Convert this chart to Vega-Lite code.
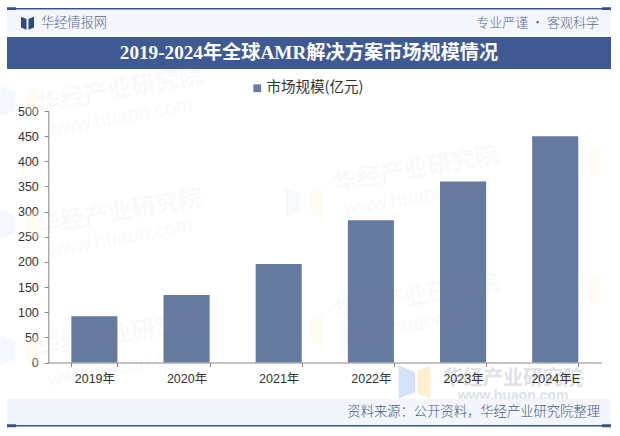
{
  "$schema": "https://vega.github.io/schema/vega-lite/v6.json",
  "description": "2019-2024 global AMR solutions market size",
  "padding": {"left": 0, "top": 7, "right": 0, "bottom": 0},
  "autosize": {"type": "pad"},
  "background": "#ffffff",
  "spacing": 0,
  "bounds": "flush",
  "datasets": {
    "market": [
      {"year": "2019年", "size": 92, "series": "市场规模(亿元)"},
      {"year": "2020年", "size": 134, "series": "市场规模(亿元)"},
      {"year": "2021年", "size": 196, "series": "市场规模(亿元)"},
      {"year": "2022年", "size": 283, "series": "市场规模(亿元)"},
      {"year": "2023年", "size": 360, "series": "市场规模(亿元)"},
      {"year": "2024年E", "size": 450, "series": "市场规模(亿元)"}
    ],
    "caps": [{"side": "left"}, {"side": "right"}],
    "header": [
      {"side": "left", "label": "华经情报网"},
      {"side": "right", "label": "专业严谨 • 客观科学"}
    ],
    "brandLeft": [
      {"year": "2019年", "level": 532, "label": "华经产业研究院"},
      {"year": "2019年", "level": 289, "label": "华经产业研究院"},
      {"year": "2019年", "level": 45, "label": "华经产业研究院"}
    ],
    "urlLeft": [
      {"year": "2019年", "level": 478, "label": "www.huaon.com"},
      {"year": "2019年", "level": 238, "label": "www.huaon.com"},
      {"year": "2019年", "level": -19, "label": "www.huaon.com"}
    ],
    "brandRight": [
      {"year": "2022年", "level": 367, "label": "华经产业研究院"},
      {"year": "2022年", "level": 114, "label": "华经产业研究院"}
    ],
    "urlRight": [
      {"year": "2022年", "level": 313, "label": "www.huaon.com"},
      {"year": "2022年", "level": 61, "label": "www.huaon.com"}
    ],
    "frontBrand": [{"year": "2023年", "level": -33, "label": "华经产业研究院"}],
    "frontUrl": [{"year": "2023年", "level": -67, "label": "www.huaon.com"}],
    "frontIcon": [{"year": "2022年", "level": -39}],
    "iconsMid": [
      {"year": "2021年", "level": 317},
      {"year": "2021年", "level": 65},
      {"year": "2024年E", "level": 397},
      {"year": "2024年E", "level": 145}
    ],
    "iconsEdge": [
      {"year": "2019年", "level": 520},
      {"year": "2019年", "level": 275},
      {"year": "2019年", "level": 25}
    ]
  },
  "config": {
    "view": {"stroke": null},
    "font": "Liberation Sans, Noto Sans CJK SC"
  },
  "vconcat": [
    {
      "width": 604,
      "height": 1.5,
      "view": {"fill": "#3a5185"},
      "data": {"name": "caps"},
      "mark": {"type": "tick", "orient": "horizontal", "color": "#3a5185", "thickness": 3, "size": 9, "opacity": 1},
      "encoding": {
        "x": {"field": "side", "type": "nominal", "axis": null, "scale": {"type": "point", "padding": 0, "domain": ["left", "right"], "range": [4.5, 599.5]}}
      }
    },
    {
      "width": 604,
      "height": 26.5,
      "view": {"fill": "#f4f6fb"},
      "data": {"name": "header"},
      "encoding": {
        "x": {"field": "side", "type": "nominal", "axis": null, "scale": {"type": "point", "padding": 0, "domain": ["left", "right"], "range": [20.5, 592]}}
      },
      "layer": [
        {
          "transform": [{"filter": "datum.side === 'left'"}],
          "mark": {"type": "point", "filled": true, "opacity": 1, "color": "#2f4a7f", "size": 169, "shape": "M-1,-1 L-0.15,-0.65 L-0.15,1 L-1,0.65 Z M1,-1 L0.15,-0.65 L0.15,1 L1,0.65 Z"}
        },
        {
          "transform": [{"filter": "datum.side === 'left'"}],
          "mark": {"type": "text", "fontSize": 13.2, "color": "#566a8c", "font": "Noto Sans CJK SC", "fontWeight": 300, "align": "left", "dx": 13.5},
          "encoding": {"text": {"field": "label"}}
        },
        {
          "transform": [{"filter": "datum.side === 'right'"}],
          "mark": {"type": "text", "fontSize": 13, "color": "#566a8c", "font": "Noto Sans CJK SC", "fontWeight": 300, "align": "right"},
          "encoding": {"text": {"field": "label"}}
        }
      ]
    },
    {
      "width": 604,
      "height": 32,
      "view": {"fill": "#3f5a92"},
      "data": {"values": [{"label": "2019-2024年全球AMR解决方案市场规模情况"}]},
      "mark": {"type": "text", "fontSize": 19.2, "fontWeight": "bold", "color": "#ffffff", "font": "Liberation Serif, Noto Sans CJK SC"},
      "encoding": {"text": {"field": "label"}}
    },
    {
      "width": 604,
      "height": 330,
      "data": {"name": "market"},
      "encoding": {
        "x": {
          "field": "year", "type": "nominal",
          "scale": {"domain": ["2019年", "2020年", "2021年", "2022年", "2023年", "2024年E"], "range": [41.3, 594.3], "paddingInner": 0.5, "paddingOuter": 0.25},
          "axis": {"title": null, "labelAngle": 0, "offset": -36.5, "tickBand": "extent", "tickSize": 4, "labelFontSize": 12.5, "labelColor": "#333333", "domainColor": "#868686", "tickColor": "#868686", "labelPadding": 6, "grid": false, "zindex": 1}
        },
        "y": {
          "field": "size", "type": "quantitative",
          "scale": {"domain": [0, 500], "range": [293.5, 42], "nice": false},
          "axis": {"title": null, "values": [0, 50, 100, 150, 200, 250, 300, 350, 400, 450, 500], "offset": -41.3, "tickSize": 4, "labelFontSize": 12.5, "labelColor": "#333333", "domainColor": "#868686", "tickColor": "#868686", "labelPadding": 6, "grid": false}
        }
      },
      "layer": [
        {
          "data": {"name": "iconsMid"},
          "mark": {"type": "point", "filled": true, "opacity": 0.25, "color": "#dbe6f7", "size": 900, "xOffset": 14, "shape": "M-0.5,-1 L0.5,-0.6 L0.5,0.6 L-0.5,1 Z"},
          "encoding": {"y": {"field": "level", "type": "quantitative"}}
        },
        {
          "data": {"name": "iconsMid"},
          "mark": {"type": "point", "filled": true, "opacity": 0.3, "color": "#fdf3d6", "size": 900, "xOffset": 38, "shape": "M-0.4,-0.7 L0.4,-1 L0.4,1 L-0.4,0.7 Z"},
          "encoding": {"y": {"field": "level", "type": "quantitative"}}
        },
        {
          "data": {"name": "iconsEdge"},
          "mark": {"type": "point", "filled": true, "opacity": 0.3, "color": "#dbe6f7", "size": 900, "xOffset": -86.5, "shape": "M-0.5,-1 L0.5,-0.6 L0.5,0.6 L-0.5,1 Z"},
          "encoding": {"y": {"field": "level", "type": "quantitative"}}
        },
        {
          "data": {"name": "iconsEdge"},
          "mark": {"type": "point", "filled": true, "opacity": 0.3, "color": "#fdf3d6", "size": 900, "xOffset": -62, "shape": "M-0.4,-0.7 L0.4,-1 L0.4,1 L-0.4,0.7 Z"},
          "encoding": {"y": {"field": "level", "type": "quantitative"}}
        },
        {
          "data": {"name": "frontIcon"},
          "mark": {"type": "point", "filled": true, "opacity": 1, "color": "#d5e3f8", "size": 1100, "xOffset": 36, "shape": "M-0.5,-1 L0.5,-0.6 L0.5,0.6 L-0.5,1 Z"},
          "encoding": {"y": {"field": "level", "type": "quantitative"}}
        },
        {
          "data": {"name": "frontIcon"},
          "mark": {"type": "point", "filled": true, "opacity": 1, "color": "#fcf0cd", "size": 1100, "xOffset": 53, "shape": "M-0.4,-0.7 L0.4,-1 L0.4,1 L-0.4,0.7 Z"},
          "encoding": {"y": {"field": "level", "type": "quantitative"}}
        },
        {
          "mark": {"type": "bar", "opacity": 1},
          "encoding": {
            "color": {
              "field": "series", "type": "nominal",
              "scale": {"range": ["#667a9f"]},
              "legend": {"title": null, "orient": "none", "legendX": 243, "legendY": 73, "symbolType": "square", "symbolSize": 60, "labelFontSize": 14.5, "labelOffset": 2, "labelColor": "#333333", "labelFont": "Noto Sans CJK SC", "symbolOpacity": 1}
            }
          }
        },
        {
          "data": {"name": "brandLeft"},
          "mark": {"type": "text", "fontSize": 24, "fontWeight": "bold", "angle": 350, "color": "#8f9bb0", "opacity": 0.05, "dx": 26, "font": "Noto Sans CJK SC"},
          "encoding": {"y": {"field": "level", "type": "quantitative"}, "text": {"field": "label"}}
        },
        {
          "data": {"name": "urlLeft"},
          "mark": {"type": "text", "fontSize": 20, "angle": 350, "color": "#8f9bb0", "opacity": 0.05, "dx": 26},
          "encoding": {"y": {"field": "level", "type": "quantitative"}, "text": {"field": "label"}}
        },
        {
          "data": {"name": "brandRight"},
          "mark": {"type": "text", "fontSize": 24, "fontWeight": "bold", "angle": 350, "color": "#8f9bb0", "opacity": 0.05, "dx": 46, "font": "Noto Sans CJK SC"},
          "encoding": {"y": {"field": "level", "type": "quantitative"}, "text": {"field": "label"}}
        },
        {
          "data": {"name": "urlRight"},
          "mark": {"type": "text", "fontSize": 20, "angle": 350, "color": "#8f9bb0", "opacity": 0.05, "dx": 46},
          "encoding": {"y": {"field": "level", "type": "quantitative"}, "text": {"field": "label"}}
        },
        {
          "data": {"name": "frontBrand"},
          "mark": {"type": "text", "fontSize": 20, "fontWeight": "bold", "color": "#c9ced6", "opacity": 0.6, "dx": 50, "font": "Noto Sans CJK SC"},
          "encoding": {"y": {"field": "level", "type": "quantitative"}, "text": {"field": "label"}}
        },
        {
          "data": {"name": "frontUrl"},
          "mark": {"type": "text", "fontSize": 14, "fontWeight": "bold", "letterSpacing": 2.5, "color": "#c9ced6", "opacity": 0.6, "dx": 50},
          "encoding": {"y": {"field": "level", "type": "quantitative"}, "text": {"field": "label"}}
        }
      ]
    },
    {
      "width": 604,
      "height": 26,
      "view": {"fill": "#f3f5fa"},
      "data": {"values": [{"side": "right", "label": "资料来源：公开资料，华经产业研究院整理"}]},
      "mark": {"type": "text", "fontSize": 13.3, "color": "#44597e", "font": "Noto Sans CJK SC", "fontWeight": 300, "align": "right"},
      "encoding": {
        "x": {"field": "side", "type": "nominal", "axis": null, "scale": {"type": "point", "padding": 0, "domain": ["left", "right"], "range": [20, 593]}},
        "text": {"field": "label"}
      }
    },
    {
      "width": 604,
      "height": 1.5,
      "view": {"fill": "#3a5185"},
      "data": {"name": "caps"},
      "mark": {"type": "tick", "orient": "horizontal", "color": "#3a5185", "thickness": 3, "size": 9, "opacity": 1},
      "encoding": {
        "x": {"field": "side", "type": "nominal", "axis": null, "scale": {"type": "point", "padding": 0, "domain": ["left", "right"], "range": [4.5, 599.5]}}
      }
    }
  ]
}
